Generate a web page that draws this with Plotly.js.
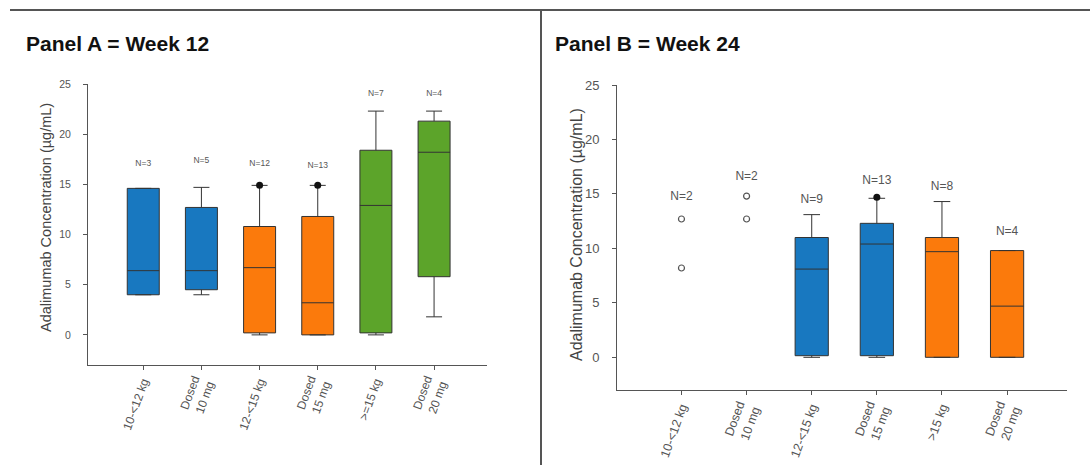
<!DOCTYPE html>
<html>
<head>
<meta charset="utf-8">
<script src="https://cdn.plot.ly/plotly-3.0.1.min.js"></script>
<style>html,body{margin:0;padding:0;background:#fff;}#chart{width:1090px;height:465px;}</style>
</head>
<body>
<div id="chart"></div>
<script>
// ---------- Panel A (Week 12) ----------
const categoriesA = ['10-<12 kg', 'Dosed<br>10 mg', '12-<15 kg', 'Dosed<br>15 mg', '>=15 kg', 'Dosed<br>20 mg'];
const q1A  = [4.0, 4.5, 0.2, 0.0, 0.2, 5.8];
const medA = [6.4, 6.4, 6.7, 3.2, 12.9, 18.2];
const q3A  = [14.6, 12.7, 10.8, 11.8, 18.4, 21.3];
const loA  = [4.0, 4.0, 0.0, 0.0, 0.0, 1.8];
const hiA  = [14.6, 14.7, 14.9, 14.9, 22.3, 22.3];
const groupA = ['blue', 'blue', 'orange', 'orange', 'green', 'green'];
const outlierXA = [2, 3];
const outlierYA = [14.9, 14.9];
const nLabelA = ['N=3', 'N=5', 'N=12', 'N=13', 'N=7', 'N=4'];
const nPosA   = [17.0, 17.3, 17.0, 16.8, 24.0, 24.0];

// ---------- Panel B (Week 24) ----------
const categoriesB = ['10-<12 kg', 'Dosed<br>10 mg', '12-<15 kg', 'Dosed<br>15 mg', '>15 kg', 'Dosed<br>20 mg'];
const boxXB = [2, 3, 4, 5];
const q1B  = [0.15, 0.15, 0.0, 0.0];
const medB = [8.1, 10.4, 9.7, 4.7];
const q3B  = [11.0, 12.3, 11.0, 9.8];
const loB  = [0.0, 0.0, 0.0, 0.0];
const hiB  = [13.1, 14.6, 14.3, 9.8];
const groupB = ['blue', 'blue', 'orange', 'orange'];
const pointXB = [0, 0, 1, 1];
const pointYB = [12.7, 8.2, 14.8, 12.7];
const outlierXB = [3];
const outlierYB = [14.7];
const nLabelB = ['N=2', 'N=2', 'N=9', 'N=13', 'N=8', 'N=4'];
const nPosB   = [14.7, 16.6, 14.4, 16.2, 15.6, 11.5];

const yTitle = 'Adalimumab Concentration (µg/mL)';

const palette = {blue: '#1878c0', orange: '#fb7a0c', green: '#5ca42a'};
const lineCol = '#333333';

function boxTraces(xs, q1, med, q3, lo, hi, groups, xa, ya, width) {
  const traces = [];
  ['blue', 'orange', 'green'].forEach(g => {
    const idx = groups.map((v, i) => v === g ? i : -1).filter(i => i >= 0);
    if (!idx.length) return;
    traces.push({
      type: 'box', xaxis: xa, yaxis: ya,
      x: idx.map(i => xs[i]),
      q1: idx.map(i => q1[i]), median: idx.map(i => med[i]), q3: idx.map(i => q3[i]),
      lowerfence: idx.map(i => lo[i]), upperfence: idx.map(i => hi[i]),
      fillcolor: palette[g], line: {color: lineCol, width: 1},
      width: width, whiskerwidth: 0.5, boxpoints: false, hoverinfo: 'skip', showlegend: false
    });
  });
  return traces;
}

const xsA = categoriesA.map((_, i) => i);
const xsB = categoriesB.map((_, i) => i);
const font = 'Liberation Sans, Arial, sans-serif';

const data = [
  ...boxTraces(xsA, q1A, medA, q3A, loA, hiA, groupA, 'x', 'y', 0.55),
  {type: 'scatter', mode: 'markers', xaxis: 'x', yaxis: 'y', x: outlierXA, y: outlierYA,
   marker: {color: '#111', size: 7}, showlegend: false, hoverinfo: 'skip'},
  {type: 'scatter', mode: 'text', xaxis: 'x', yaxis: 'y', x: xsA, y: nPosA, text: nLabelA,
   textfont: {family: font, size: 8.5, color: '#555'}, showlegend: false, hoverinfo: 'skip'},

  ...boxTraces(boxXB, q1B, medB, q3B, loB, hiB, groupB, 'x2', 'y2', 0.51),
  {type: 'scatter', mode: 'markers', xaxis: 'x2', yaxis: 'y2', x: pointXB, y: pointYB,
   marker: {color: 'rgba(0,0,0,0)', size: 6, line: {color: '#555', width: 1.2}}, showlegend: false, hoverinfo: 'skip'},
  {type: 'scatter', mode: 'markers', xaxis: 'x2', yaxis: 'y2', x: outlierXB, y: outlierYB,
   marker: {color: '#111', size: 7}, showlegend: false, hoverinfo: 'skip'},
  {type: 'scatter', mode: 'text', xaxis: 'x2', yaxis: 'y2', x: xsB, y: nPosB, text: nLabelB,
   textfont: {family: font, size: 12, color: '#555'}, showlegend: false, hoverinfo: 'skip'}
];

const axisCommon = {showline: true, linecolor: '#555', linewidth: 1, showgrid: false, zeroline: false,
  ticks: 'outside', tickcolor: '#555', ticklen: 4, fixedrange: true};

const layout = {
  width: 1090, height: 465, margin: {l: 0, r: 0, t: 0, b: 0},
  paper_bgcolor: '#fff', plot_bgcolor: 'rgba(0,0,0,0)', showlegend: false,
  font: {family: font, color: '#444'},
  xaxis: Object.assign({}, axisCommon, {domain: [88/1090, 487/1090], anchor: 'y', range: [-0.95, 5.91],
    tickmode: 'array', tickvals: xsA, ticktext: categoriesA, tickangle: -70,
    tickfont: {size: 12, color: '#555'}}),
  yaxis: Object.assign({}, axisCommon, {domain: [1 - 365/465, 1 - 84/465], anchor: 'x', range: [-3, 25],
    tickvals: [0, 5, 10, 15, 20, 25], tickfont: {size: 10.5, color: '#555'}, ticklabelstandoff: 10}),
  xaxis2: Object.assign({}, axisCommon, {domain: [617/1090, 1067/1090], anchor: 'y2', range: [-0.99, 5.92],
    tickmode: 'array', tickvals: xsB, ticktext: categoriesB, tickangle: -70,
    tickfont: {size: 12.5, color: '#555'}}),
  yaxis2: Object.assign({}, axisCommon, {domain: [1 - 390/465, 1 - 85/465], anchor: 'x2', range: [-3, 25],
    tickvals: [0, 5, 10, 15, 20, 25], tickfont: {size: 13, color: '#555'}, ticklabelstandoff: 10}),
  annotations: [
    {text: '<b>Panel A = Week 12</b>', xref: 'paper', yref: 'paper', x: 24/1090, y: 1 - 43/465,
     xanchor: 'left', yanchor: 'middle', showarrow: false, font: {size: 21, color: '#111', family: font}},
    {text: '<b>Panel B = Week 24</b>', xref: 'paper', yref: 'paper', x: 553/1090, y: 1 - 44/465,
     xanchor: 'left', yanchor: 'middle', showarrow: false, font: {size: 21, color: '#111', family: font}},
    {text: yTitle, xref: 'paper', yref: 'paper', x: 46/1090, y: 1 - 218/465, textangle: -90,
     xanchor: 'center', yanchor: 'middle', showarrow: false, font: {size: 14.5, color: '#444', family: font}},
    {text: yTitle, xref: 'paper', yref: 'paper', x: 576/1090, y: 1 - 235/465, textangle: -90,
     xanchor: 'center', yanchor: 'middle', showarrow: false, font: {size: 16, color: '#444', family: font}}
  ],
  shapes: [
    {type: 'line', xref: 'paper', yref: 'paper', x0: 10/1090, x1: 1, y0: 1 - 10/465, y1: 1 - 10/465,
     line: {color: '#555', width: 2}},
    {type: 'line', xref: 'paper', yref: 'paper', x0: 541/1090, x1: 541/1090, y0: 0, y1: 1 - 10/465,
     line: {color: '#555', width: 2}}
  ]
};

Plotly.newPlot('chart', data, layout, {staticPlot: true, displayModeBar: false});
</script>
</body>
</html>
